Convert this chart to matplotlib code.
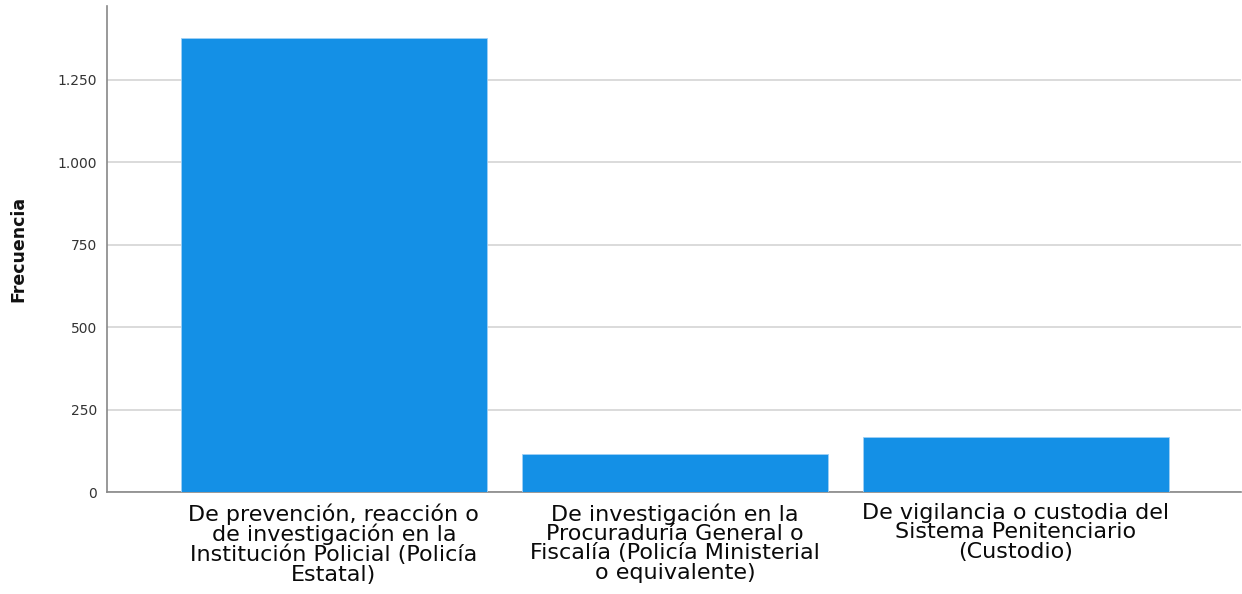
import matplotlib
matplotlib.use("Agg")
import matplotlib.pyplot as plt
from matplotlib.ticker import FuncFormatter

categories = [
    "De prevención, reacción o\nde investigación en la\nInstitución Policial (Policía\nEstatal)",
    "De investigación en la\nProcuraduría General o\nFiscalía (Policía Ministerial\no equivalente)",
    "De vigilancia o custodia del\nSistema Penitenciario\n(Custodio)",
]
values = [1376, 115, 167]
yticks = [0, 250, 500, 750, 1000, 1250]

fig = plt.figure(figsize=(12.42, 5.94), dpi=100)
ax = fig.add_axes([107/1242, 1 - 492/594, (1241-107)/1242, (492-6)/594])

x = range(len(categories))
ax.bar(x, values, width=0.898, color="#1490e6", edgecolor="#9fd0f5", linewidth=0.6, zorder=3)

ax.set_xlim(-0.665, 2.66)
ax.set_ylim(0, 1473)
ax.set_yticks(yticks)
ax.yaxis.set_major_formatter(FuncFormatter(lambda v, p: f"{int(v):,}".replace(",", ".")))
ax.grid(axis="y", color="#d4d4d4", linewidth=1.2, zorder=0)
ax.set_xticks(list(x))
ax.set_xticklabels(categories, family=["DejaVu Sans"], fontsize=16,
                   color="#0a0a0a", linespacing=0.96)
ax.tick_params(axis="x", length=0, pad=8)
ax.tick_params(axis="y", length=0, pad=7, labelsize=10, labelcolor="#333333")

for s in ["top", "right"]:
    ax.spines[s].set_visible(False)
ax.spines["left"].set_color("#888888")
ax.spines["bottom"].set_color("#888888")
ax.spines["left"].set_linewidth(1.2)
ax.spines["bottom"].set_linewidth(1.2)

ax.set_ylabel("Frecuencia", fontsize=12.5, fontweight="bold", color="#111111", labelpad=22)

fig.savefig("out.png", dpi=100)
